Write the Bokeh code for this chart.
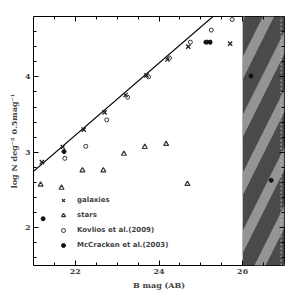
from bokeh.plotting import figure
from bokeh.models import LinearAxis, Range1d, FixedTicker, Legend, LegendItem, Whisker, ColumnDataSource
from bokeh.embed import file_html
from bokeh.resources import INLINE

# ---- data ----
gal_mag = [21.2, 21.7, 22.2, 22.7, 23.2, 23.7, 24.2, 24.7, 25.2, 25.7]
gal_logn = [2.87, 3.07, 3.30, 3.53, 3.76, 4.02, 4.23, 4.40, 4.46, 4.44]

star_mag = [21.17, 21.67, 22.17, 22.67, 23.16, 23.66, 24.17, 24.68]
star_logn = [2.57, 2.53, 2.76, 2.76, 2.98, 3.07, 3.11, 2.58]

kov_mag = [21.75, 22.25, 22.75, 23.25, 23.75, 24.25, 24.75, 25.25, 25.75]
kov_logn = [2.92, 3.08, 3.43, 3.73, 4.00, 4.25, 4.46, 4.62, 4.76]

mcc_mag = [21.23, 21.73, 25.12, 25.22, 26.2, 26.68]
mcc_logn = [2.12, 3.01, 4.46, 4.46, 4.01, 2.63]

err_mag = [26.68]
err_logn = [2.63]
err_size = [0.06]

fit_mag = [20.5, 25.5]
fit_logn = [2.51, 4.90]

limit_mag = 26.0
x_range = (21.0, 27.0)
y_range = (1.5, 4.8)
x_major = [22, 24, 26]
y_major = [2, 3, 4]
x_minor = [21.5 + 0.5 * i for i in range(11)]
y_minor = [1.6 + 0.2 * i for i in range(17)]

p = figure(width=292, height=292, output_backend="svg", toolbar_location=None,
           x_range=Range1d(*x_range), y_range=Range1d(*y_range),
           min_border_left=33, min_border_right=8, min_border_top=16, min_border_bottom=24)
p.grid.visible = False
p.outline_line_color = "black"
p.outline_line_width = 1
p.background_fill_color = "white"

# shaded incompleteness region
p.quad(left=[limit_mag], right=[x_range[1]], bottom=[y_range[0]], top=[y_range[1]],
       fill_color="#4a4a4a", line_color=None,
       hatch_pattern="/", hatch_color="#949494", hatch_scale=58, hatch_weight=10)
p.segment(x0=[26.92], x1=[26.92], y0=[y_range[0]], y1=[y_range[1]],
          line_color="#bbbbbb", line_width=1, line_dash="2 2")

# fit line
p.line(fit_mag, fit_logn, line_color="black", line_width=1.2)

r_gal = p.scatter(gal_mag, gal_logn, marker="x", size=6, line_color="#222222", line_width=1.3)
r_star = p.scatter(star_mag, star_logn, marker="triangle", size=5, fill_color=None,
                   line_color="#333333", line_width=1.2)
r_kov = p.scatter(kov_mag, kov_logn, marker="circle", size=4, fill_color=None,
                  line_color="#333333", line_width=1)
r_mcc = p.scatter(mcc_mag, mcc_logn, marker="circle", size=4, fill_color="#111111",
                  line_color="#111111")

src = ColumnDataSource(dict(x=err_mag, lo=[a - e for a, e in zip(err_logn, err_size)],
                            hi=[a + e for a, e in zip(err_logn, err_size)]))
p.add_layout(Whisker(source=src, base="x", lower="lo", upper="hi",
                     line_color="#111111", line_width=1))

legend = Legend(items=[
    LegendItem(label="galaxies", renderers=[r_gal]),
    LegendItem(label="stars", renderers=[r_star]),
    LegendItem(label="Kovlios et al.(2009)", renderers=[r_kov]),
    LegendItem(label="McCracken et al.(2003)", renderers=[r_mcc]),
], location=(24, 15), border_line_color=None, background_fill_alpha=0,
    label_text_font="DejaVu Sans", label_text_font_size="7px", label_text_font_style="bold",
    label_height=10, glyph_height=10, glyph_width=12, spacing=5, padding=2, margin=0,
    label_standoff=8)
p.add_layout(legend, "center")

font = "DejaVu Serif"
for ax in (p.xaxis[0], p.yaxis[0]):
    ax.major_tick_in = 5
    ax.major_tick_out = 0
    ax.minor_tick_in = 3
    ax.minor_tick_out = 0
    ax.major_label_text_font = font
    ax.major_label_text_font_size = "8px"
    ax.major_label_text_font_style = "bold"
    ax.axis_label_text_font = font
    ax.axis_label_text_font_size = "8px"
    ax.axis_label_text_font_style = "bold"
    ax.axis_line_color = None
    ax.major_label_standoff = 3
    ax.axis_label_standoff = 3

p.xaxis[0].ticker = FixedTicker(ticks=x_major, minor_ticks=x_minor)
p.yaxis[0].ticker = FixedTicker(ticks=y_major, minor_ticks=y_minor)
p.xaxis[0].axis_label = "B mag (AB)"
p.yaxis[0].axis_label = "log N deg\u207b\u00b2 0.5mag\u207b\u00b9"

for loc, tk, mt in (("above", x_major, x_minor), ("right", y_major, y_minor)):
    ax = LinearAxis(ticker=FixedTicker(ticks=tk, minor_ticks=mt))
    ax.major_tick_in = 5
    ax.major_tick_out = 0
    ax.minor_tick_in = 3
    ax.minor_tick_out = 0
    ax.major_label_text_color = None
    ax.major_label_standoff = 0
    ax.axis_line_color = None
    p.add_layout(ax, loc)

open("out.html", "w").write(file_html(p, INLINE))
